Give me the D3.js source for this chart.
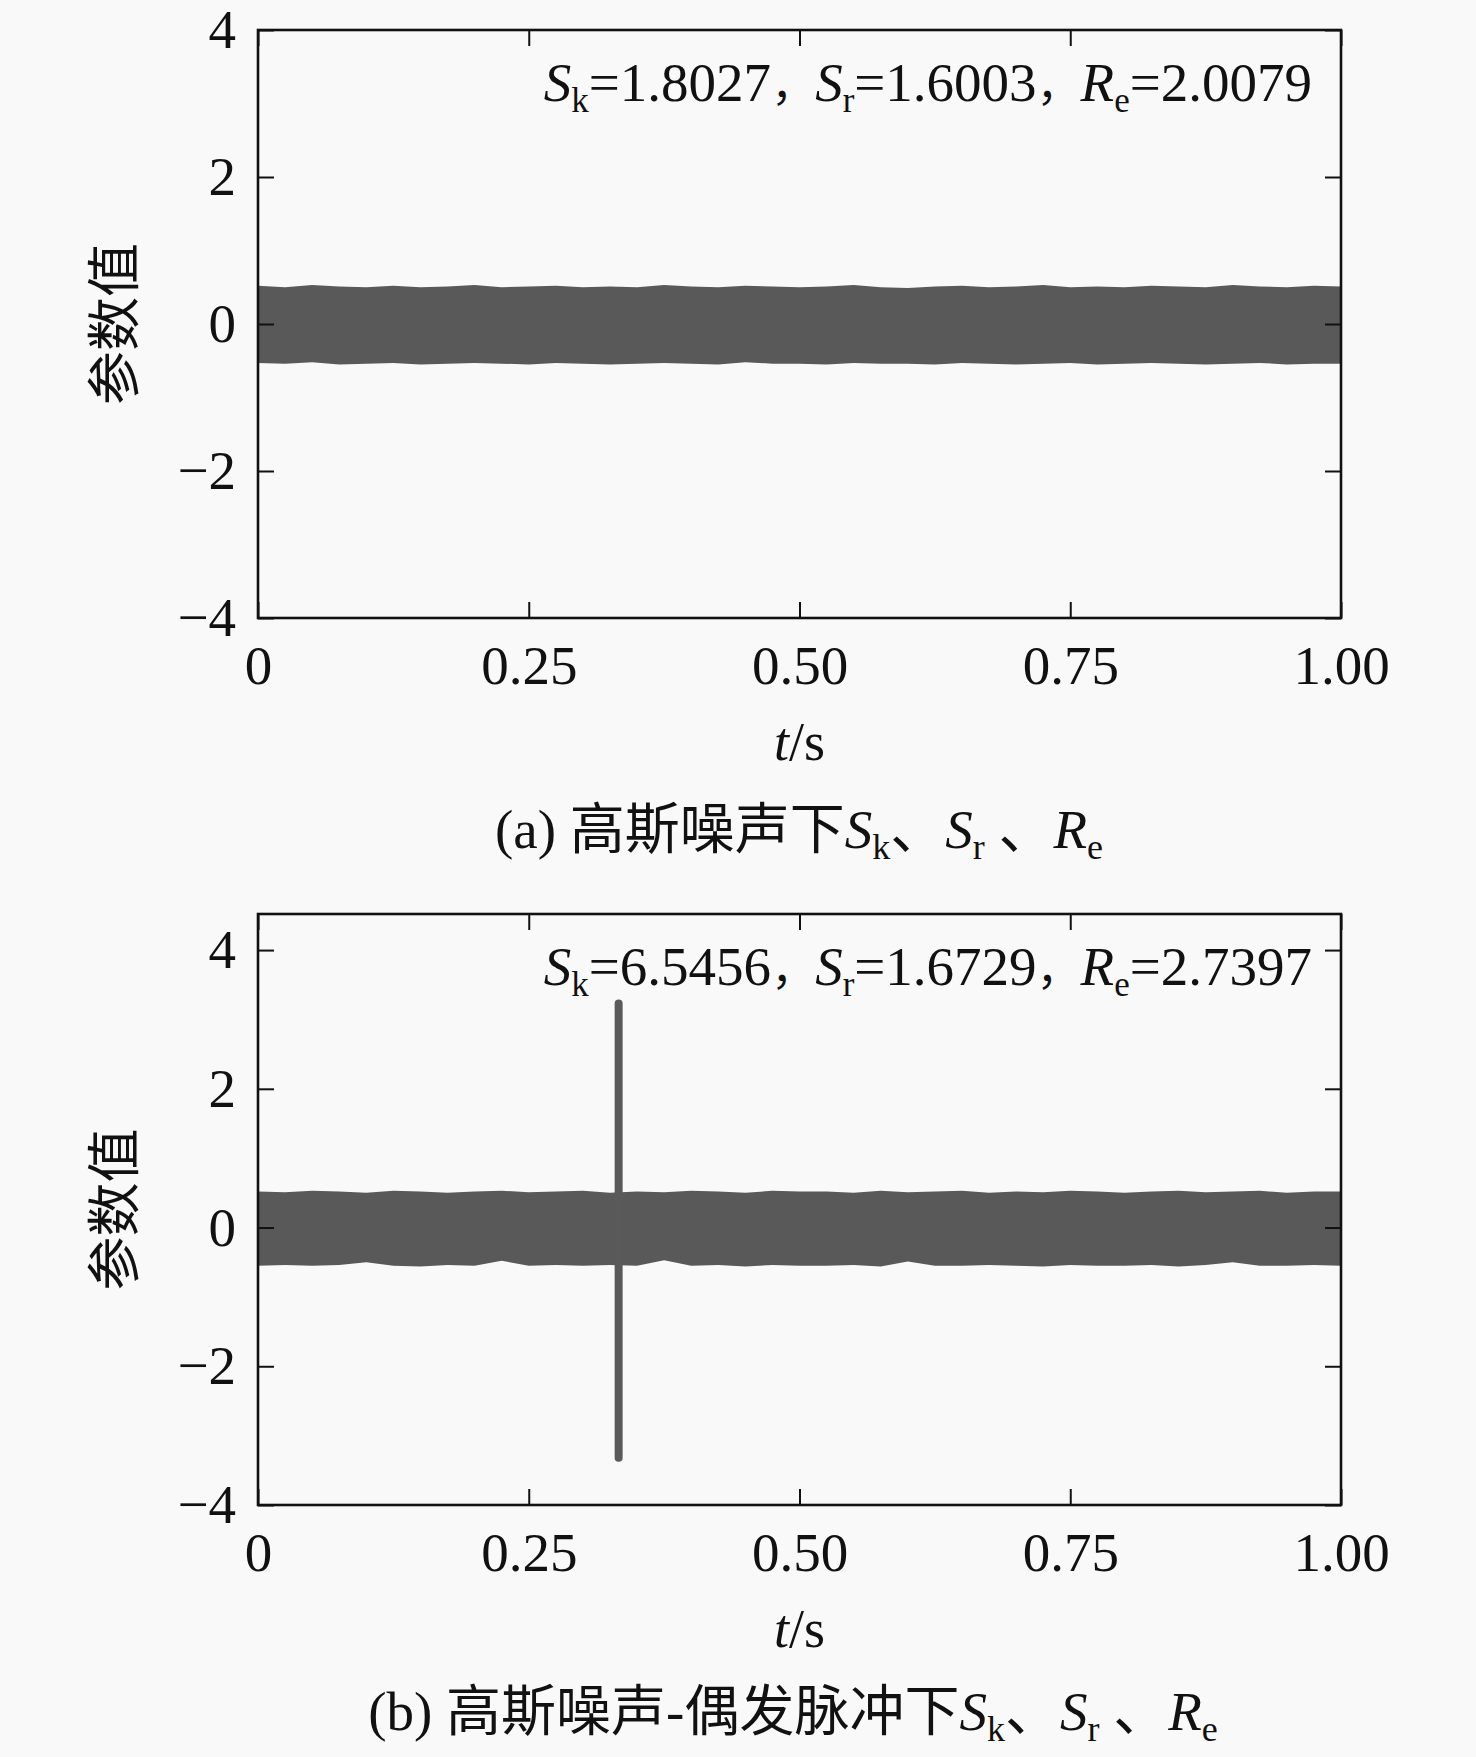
<!DOCTYPE html>
<html>
<head>
<meta charset="utf-8">
<script src="https://cdn.jsdelivr.net/npm/d3@7"></script>
<style>
  html, body { margin: 0; padding: 0; background: #f9f9f9; }
  svg { display: block; }
  text { font-family: "Liberation Serif", "Times New Roman", "Noto Sans CJK SC", serif; fill: #111; }
  .cjk { font-family: "Liberation Serif", "Noto Sans CJK SC", serif; }
</style>
</head>
<body>
<svg id="chart"></svg>
<script>
// sample times for the noise envelope (s)
var timeGrid = [0, 0.025, 0.05, 0.075, 0.1, 0.125, 0.15, 0.175, 0.2, 0.225,
    0.25, 0.275, 0.3, 0.325, 0.35, 0.375, 0.4, 0.425, 0.45, 0.475,
    0.5, 0.525, 0.55, 0.575, 0.6, 0.625, 0.65, 0.675, 0.7, 0.725,
    0.75, 0.775, 0.8, 0.825, 0.85, 0.875, 0.9, 0.925, 0.95, 0.975, 1.0];

// (a) gaussian noise: upper / lower envelope of the band
var upperA = [0.52, 0.50, 0.53, 0.51, 0.50, 0.52, 0.50, 0.51, 0.53, 0.50,
    0.51, 0.52, 0.50, 0.51, 0.50, 0.53, 0.51, 0.50, 0.52, 0.51,
    0.50, 0.51, 0.53, 0.50, 0.49, 0.51, 0.52, 0.50, 0.51, 0.53,
    0.50, 0.51, 0.50, 0.52, 0.51, 0.50, 0.53, 0.51, 0.50, 0.52, 0.51];
var lowerA = [-0.53, -0.54, -0.52, -0.55, -0.54, -0.53, -0.55, -0.54, -0.53, -0.54,
    -0.55, -0.53, -0.54, -0.55, -0.54, -0.53, -0.54, -0.55, -0.52, -0.54,
    -0.54, -0.55, -0.53, -0.54, -0.54, -0.55, -0.53, -0.54, -0.55, -0.54,
    -0.53, -0.55, -0.54, -0.53, -0.54, -0.55, -0.54, -0.53, -0.55, -0.54, -0.54];

// (b) gaussian noise + occasional impulse
var upperB = [0.52, 0.51, 0.53, 0.52, 0.50, 0.53, 0.52, 0.50, 0.52, 0.53,
    0.51, 0.52, 0.53, 0.50, 0.52, 0.51, 0.53, 0.52, 0.50, 0.53,
    0.52, 0.52, 0.50, 0.53, 0.51, 0.52, 0.53, 0.50, 0.52, 0.51,
    0.53, 0.52, 0.50, 0.52, 0.53, 0.51, 0.52, 0.53, 0.50, 0.52, 0.52];
var lowerB = [-0.55, -0.54, -0.55, -0.54, -0.50, -0.55, -0.56, -0.54, -0.55, -0.48,
    -0.55, -0.54, -0.55, -0.54, -0.55, -0.47, -0.55, -0.54, -0.56, -0.54,
    -0.55, -0.55, -0.54, -0.56, -0.49, -0.55, -0.55, -0.54, -0.55, -0.56,
    -0.54, -0.55, -0.55, -0.54, -0.56, -0.54, -0.50, -0.55, -0.55, -0.54, -0.55];

// impulse in (b)
var spikeTime = [0.333];
var spikeTop = [3.23];
var spikeBottom = [-3.32];

var xTicks = [0, 0.25, 0.5, 0.75, 1.0];
var xTickLabels = ["0", "0.25", "0.50", "0.75", "1.00"];
var yTicks = [-4, -2, 0, 2, 4];

var statsA = ["1.8027", "1.6003", "2.0079"];
var statsB = ["6.5456", "1.6729", "2.7397"];

var W = 1476, H = 1757;
var svg = d3.select("#chart").attr("width", W).attr("height", H);

function drawPanel(opt) {
    var left = 258, right = 1341;
    var x = d3.scaleLinear().domain([0, 1]).range([left, right]);
    var y = d3.scaleLinear().domain(opt.yDomain).range([opt.bottom, opt.top]);
    var g = svg.append("g");

    // noise band
    var band = timeGrid.map(function (t, i) {
        return { t: t, hi: opt.upper[i], lo: opt.lower[i] };
    });
    g.append("path")
        .datum(band)
        .attr("fill", "#595959")
        .attr("d", d3.area()
            .x(function (d) { return x(d.t); })
            .y0(function (d) { return y(d.lo); })
            .y1(function (d) { return y(d.hi); }));

    if (opt.spike) {
        g.selectAll(".spike")
            .data(spikeTime)
            .enter().append("line")
            .attr("x1", function (d) { return x(d); })
            .attr("x2", function (d) { return x(d); })
            .attr("y1", function (d, i) { return y(spikeTop[i]); })
            .attr("y2", function (d, i) { return y(spikeBottom[i]); })
            .attr("stroke", "#5a5a5a")
            .attr("stroke-width", 8)
            .attr("stroke-linecap", "round");
    }

    // axes, ticks pointing inward
    g.append("g")
        .attr("transform", "translate(0," + opt.bottom + ")")
        .call(d3.axisBottom(x).tickValues(xTicks).tickSize(-16).tickPadding(27)
            .tickFormat(function (d, i) { return xTickLabels[i]; }));
    g.append("g")
        .attr("transform", "translate(0," + opt.top + ")")
        .call(d3.axisTop(x).tickValues(xTicks).tickSize(-16).tickFormat(""));
    g.append("g")
        .attr("transform", "translate(" + left + ",0)")
        .call(d3.axisLeft(y).tickValues(yTicks).tickSize(-16).tickPadding(22)
            .tickFormat(d3.format("d")));
    g.append("g")
        .attr("transform", "translate(" + right + ",0)")
        .call(d3.axisRight(y).tickValues(yTicks).tickSize(-16).tickFormat(""));

    g.selectAll(".domain").remove();
    g.selectAll(".tick line").attr("stroke", "#111").attr("stroke-width", 2);
    g.selectAll(".tick text")
        .style("font-family", "'Liberation Serif', 'Times New Roman', serif")
        .style("font-size", "55px")
        .attr("fill", "#111");

    // frame
    g.append("rect")
        .attr("x", left).attr("y", opt.top)
        .attr("width", right - left).attr("height", opt.bottom - opt.top)
        .attr("fill", "none").attr("stroke", "#111").attr("stroke-width", 2.6);

    // stats annotation
    var ann = g.append("text")
        .attr("x", 1312).attr("y", opt.top + 71)
        .attr("text-anchor", "end")
        .style("font-size", "55px");
    var names = [["S", "k"], ["S", "r"], ["R", "e"]];
    names.forEach(function (n, i) {
        ann.append("tspan").style("font-style", "italic").text(n[0]);
        ann.append("tspan").attr("dy", 11).style("font-size", "35px").text(n[1]);
        ann.append("tspan").attr("dy", -11).text("=" + opt.stats[i]);
        if (i < 2) {
            ann.append("tspan").attr("class", "cjk").style("font-size", "44px").text("，");
        }
    });

    // x axis title
    var xt = g.append("text")
        .attr("x", (left + right) / 2).attr("y", opt.bottom + 142)
        .attr("text-anchor", "middle")
        .style("font-size", "54px");
    xt.append("tspan").style("font-style", "italic").text("t");
    xt.append("tspan").text("/s");

    // y axis title
    g.append("text")
        .attr("class", "cjk")
        .attr("transform", "translate(134," + (opt.top + opt.bottom) / 2 + ") rotate(-90)")
        .attr("text-anchor", "middle")
        .style("font-size", "54px")
        .text("参数值");

    // caption
    var cap = g.append("text")
        .attr("class", "cjk")
        .attr("x", opt.capX).attr("y", opt.capY)
        .attr("text-anchor", "middle")
        .style("font-size", "55px");
    cap.append("tspan").text(opt.capText);
    cap.append("tspan").style("font-style", "italic").text("S");
    cap.append("tspan").attr("dy", 11).style("font-size", "36px").text("k");
    cap.append("tspan").attr("dy", -11).text("、");
    cap.append("tspan").style("font-style", "italic").text("S");
    cap.append("tspan").attr("dy", 11).style("font-size", "36px").text("r");
    cap.append("tspan").attr("dy", -11).text(" 、");
    cap.append("tspan").style("font-style", "italic").text("R");
    cap.append("tspan").attr("dy", 11).style("font-size", "36px").text("e");
}

drawPanel({
    top: 30, bottom: 618, yDomain: [-4, 4],
    upper: upperA, lower: lowerA, spike: false, stats: statsA,
    capText: "(a) 高斯噪声下", capX: 799, capY: 848
});
drawPanel({
    top: 914, bottom: 1505, yDomain: [-4, 4.52],
    upper: upperB, lower: lowerB, spike: true, stats: statsB,
    capText: "(b) 高斯噪声-偶发脉冲下", capX: 793, capY: 1730
});
</script>
</body>
</html>
